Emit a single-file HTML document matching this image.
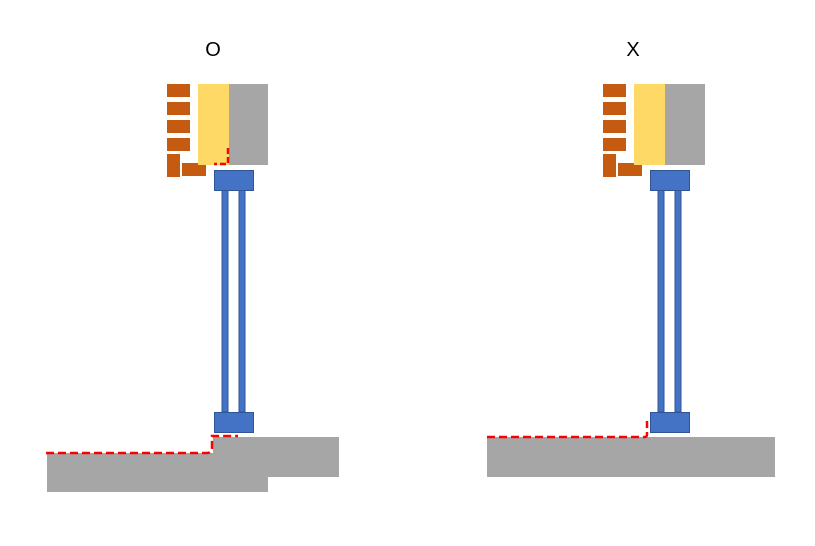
<!DOCTYPE html>
<html><head><style>body{margin:0;width:815px;height:541px;background:#fff;overflow:hidden}</style></head><body>
<svg width="815" height="541" xmlns="http://www.w3.org/2000/svg">
<g font-family="Liberation Sans, sans-serif" font-size="20" text-anchor="middle">
<text x="213" y="56">O</text><text x="633" y="56">X</text></g>
<!-- left -->
<g>
<rect x="167" y="84" width="23" height="13" fill="#c55a11"/>
<rect x="167" y="102" width="23" height="13" fill="#c55a11"/>
<rect x="167" y="120" width="23" height="13" fill="#c55a11"/>
<rect x="167" y="138" width="23" height="13" fill="#c55a11"/>
<rect x="167" y="154" width="13" height="23" fill="#c55a11"/>
<rect x="182" y="163" width="24" height="13" fill="#c55a11"/>
<rect x="198" y="84" width="31" height="81" fill="#ffd966"/>
<rect x="229" y="84" width="39" height="81" fill="#a6a6a6"/>
<path d="M228 148 V164 H214" fill="none" stroke="#f00" stroke-width="2.5" stroke-dasharray="6,3"/>
<rect x="222" y="190" width="6" height="222" fill="#4472c4" stroke="#2f5597"/>
<rect x="239" y="190" width="6" height="222" fill="#4472c4" stroke="#2f5597"/>
<rect x="214.5" y="170.5" width="39" height="20" fill="#4472c4" stroke="#2f5597"/>
<rect x="214.5" y="412.5" width="39" height="20" fill="#4472c4" stroke="#2f5597"/>
<rect x="47" y="453" width="221" height="39" fill="#a6a6a6"/>
<rect x="213" y="437" width="126" height="40" fill="#a6a6a6"/>
<path d="M46 453 H207 Q212 453 212 447 V436 H238" fill="none" stroke="#f00" stroke-width="2.5" stroke-dasharray="8,4"/>
</g>
<!-- right -->
<g>
<rect x="603" y="84" width="23" height="13" fill="#c55a11"/>
<rect x="603" y="102" width="23" height="13" fill="#c55a11"/>
<rect x="603" y="120" width="23" height="13" fill="#c55a11"/>
<rect x="603" y="138" width="23" height="13" fill="#c55a11"/>
<rect x="603" y="154" width="13" height="23" fill="#c55a11"/>
<rect x="618" y="163" width="24" height="13" fill="#c55a11"/>
<rect x="634" y="84" width="31" height="81" fill="#ffd966"/>
<rect x="665" y="84" width="40" height="81" fill="#a6a6a6"/>
<rect x="658" y="190" width="6" height="222" fill="#4472c4" stroke="#2f5597"/>
<rect x="675" y="190" width="6" height="222" fill="#4472c4" stroke="#2f5597"/>
<rect x="650.5" y="170.5" width="39" height="20" fill="#4472c4" stroke="#2f5597"/>
<rect x="650.5" y="412.5" width="39" height="20" fill="#4472c4" stroke="#2f5597"/>
<rect x="487" y="437" width="288" height="40" fill="#a6a6a6"/>
<path d="M487 437 H645 Q647 437 647 434 V421" fill="none" stroke="#f00" stroke-width="2.5" stroke-dasharray="8,4"/>
</g>
</svg>
</body></html>
